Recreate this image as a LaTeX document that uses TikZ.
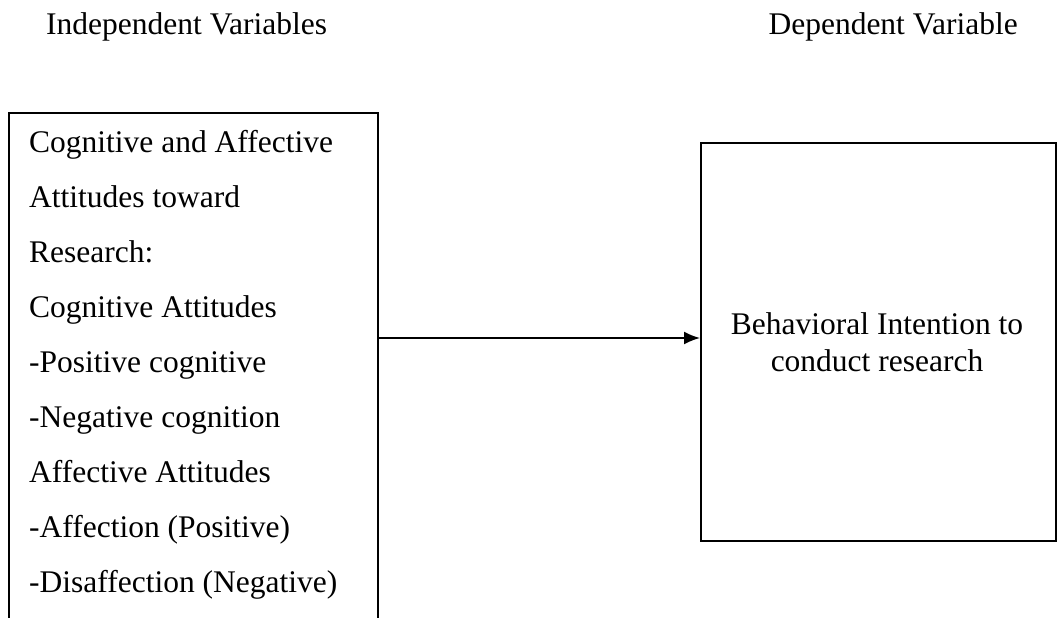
\documentclass[tikz,border=0pt]{standalone}
\usepackage{fontspec}
\setmainfont{Liberation Serif}
\usetikzlibrary{arrows.meta}
\begin{document}
\begin{tikzpicture}[x=1pt,y=-1pt,
  box/.style={draw=black, line width=1.8pt, inner sep=0pt, anchor=north west},
  txt/.style={inner sep=0pt, font=\fontsize{31.5}{37}\selectfont},
  conn/.style={line width=1.8pt, -{Latex[length=16pt,width=13pt]}}]
\useasboundingbox (0,0) rectangle (1060,618);
\clip (0,0) rectangle (1060,618);
\fill[white] (0,0) rectangle (1060,618);
% titles
\node[txt, anchor=base west] (indep) at (46,35) {Independent Variables};
\node[txt, anchor=base east] (dep) at (1018,35) {Dependent Variable};
% boxes
\node[box, minimum width=369pt, minimum height=560pt] (L) at (8,112) {};
\node[box, minimum width=355pt, minimum height=398pt] (R) at (700,142) {};
% left box text
\node[txt, anchor=base west] (l1) at (29,152) {Cognitive and Affective};
\node[txt, anchor=base west] (l2) at (29,207) {Attitudes toward};
\node[txt, anchor=base west] (l3) at (29,262) {Research:};
\node[txt, anchor=base west] (l4) at (29,317) {Cognitive Attitudes};
\node[txt, anchor=base west] (l5) at (29,372) {-Positive cognitive};
\node[txt, anchor=base west] (l6) at (29,427) {-Negative cognition};
\node[txt, anchor=base west] (l7) at (29,482) {Affective Attitudes};
\node[txt, anchor=base west] (l8) at (29,537) {-Affection (Positive)};
\node[txt, anchor=base west] (l9) at (29,592) {-Disaffection (Negative)};
% right box text
\node[txt, anchor=base] (r1) at (877,334) {Behavioral Intention to};
\node[txt, anchor=base] (r2) at (877,371) {conduct research};
% connector
\coordinate (ay) at (0,338);
\draw[conn] (L.east |- ay) -- (R.west |- ay);
\end{tikzpicture}
\end{document}
